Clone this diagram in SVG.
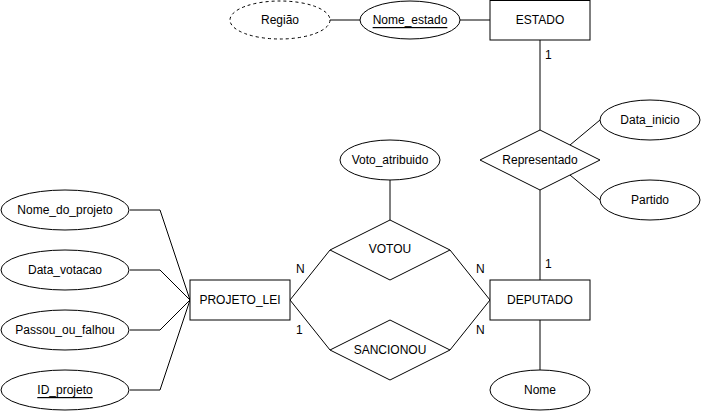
<svg xmlns="http://www.w3.org/2000/svg" width="702" height="412" viewBox="0 0 702 412">
<style>
.s{fill:#fff;stroke:#000;stroke-width:1}
.e{fill:none;stroke:#000;stroke-width:1}
text{font-family:"Liberation Sans",Arial,sans-serif;font-size:12px;fill:#000;text-anchor:middle;dominant-baseline:central}
.c{text-anchor:start}
</style>
<rect width="702" height="412" fill="#fff"/>
<g id="connectors">
<path class="e" d="M330 20H360"/>
<path class="e" d="M460 20H490"/>
<path class="e" d="M540 40V130"/>
<path class="e" d="M540 190V280"/>
<path class="e" d="M570 145L600 120"/>
<path class="e" d="M570 175L600 200"/>
<path class="e" d="M540 320V370"/>
<path class="e" d="M390 180V220"/>
<path class="e" d="M290 300L330 250"/>
<path class="e" d="M450 250L490 300"/>
<path class="e" d="M290 300L330 350"/>
<path class="e" d="M450 350L490 300"/>
<path class="e" d="M130 210H160L190 300"/>
<path class="e" d="M130 270H160L190 300"/>
<path class="e" d="M130 330H160L190 300"/>
<path class="e" d="M130 390H160L190 300"/>
<text class="c" x="545" y="55">1</text>
<text class="c" x="545" y="264">1</text>
<text class="c" x="296" y="269">N</text>
<text class="c" x="296" y="330">1</text>
<text class="c" x="476" y="269">N</text>
<text class="c" x="476" y="330">N</text>
</g>
<g id="regiao"><ellipse class="s" cx="280" cy="20" rx="50" ry="19" stroke-dasharray="3 3"/><text x="280" y="20">Região</text></g>
<g id="nome_estado"><ellipse class="s" cx="410" cy="20" rx="50" ry="19"/><text x="410" y="20" text-decoration="underline">Nome_estado</text></g>
<g id="estado"><rect class="s" x="490" y="0.5" width="100" height="39.5"/><text x="540" y="20">ESTADO</text></g>
<g id="representado"><path class="s" d="M540 130L600 160L540 190L480 160Z"/><text x="540" y="160">Representado</text></g>
<g id="data_inicio"><ellipse class="s" cx="650" cy="120" rx="50" ry="20"/><text x="650" y="120">Data_inicio</text></g>
<g id="partido"><ellipse class="s" cx="650" cy="200" rx="50" ry="20"/><text x="650" y="200">Partido</text></g>
<g id="deputado"><rect class="s" x="490" y="280" width="100" height="40"/><text x="540" y="300">DEPUTADO</text></g>
<g id="nome"><ellipse class="s" cx="540" cy="390" rx="50" ry="20"/><text x="540" y="390">Nome</text></g>
<g id="voto_atribuido"><ellipse class="s" cx="390" cy="160" rx="50" ry="20"/><text x="390" y="160">Voto_atribuido</text></g>
<g id="votou"><path class="s" d="M390 220L450 250L390 280L330 250Z"/><text x="390" y="249">VOTOU</text></g>
<g id="sancionou"><path class="s" d="M390 320L450 350L390 380L330 350Z"/><text x="390" y="350">SANCIONOU</text></g>
<g id="projeto_lei"><rect class="s" x="190" y="280" width="100" height="40"/><text x="240" y="300">PROJETO_LEI</text></g>
<g id="nome_do_projeto"><ellipse class="s" cx="65" cy="210" rx="64" ry="20"/><text x="65" y="210">Nome_do_projeto</text></g>
<g id="data_votacao"><ellipse class="s" cx="65" cy="270" rx="64" ry="20"/><text x="65" y="270">Data_votacao</text></g>
<g id="passou_ou_falhou"><ellipse class="s" cx="65" cy="330" rx="64" ry="20"/><text x="65" y="330">Passou_ou_falhou</text></g>
<g id="id_projeto"><ellipse class="s" cx="65" cy="390" rx="64" ry="20"/><text x="65" y="390" text-decoration="underline">ID_projeto</text></g>
</svg>
